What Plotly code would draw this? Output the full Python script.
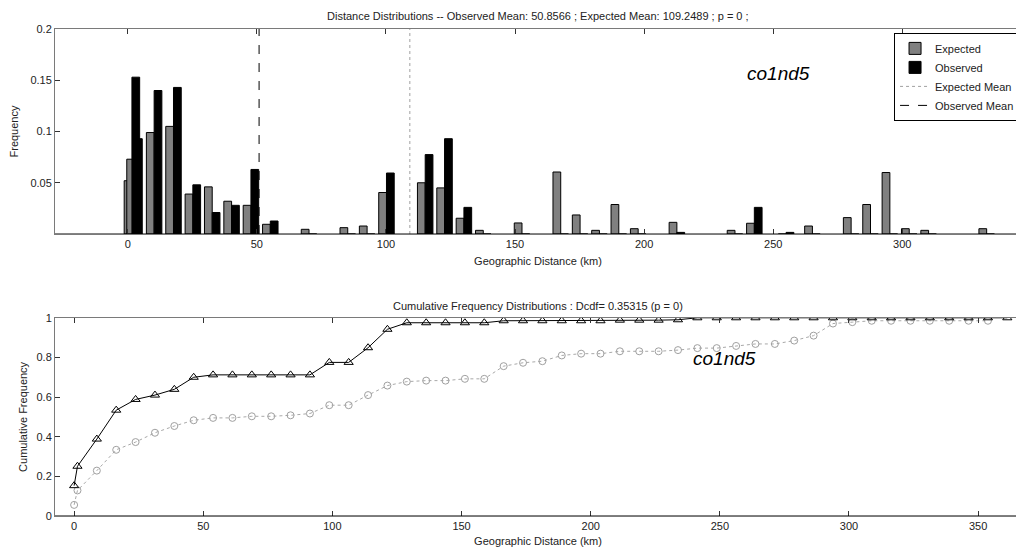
import plotly.graph_objects as go

# ---------------- data ----------------
dist_bins = [1.6, 2.6, 10.2, 17.7, 25.2, 32.7, 40.2, 47.7, 55.2, 70.2, 85.2, 92.7,
             100.2, 115.2, 122.7, 130.2, 137.7, 152.7, 167.7, 175.2, 182.7, 190.2,
             197.7, 212.7, 235.2, 242.7, 255.0, 265.2, 280.2, 287.7, 295.2, 302.7,
             310.2, 332.7]
expected_freq = [0.052, 0.073, 0.099, 0.105, 0.039, 0.046, 0.032, 0.028, 0.0095, 0.0046,
                 0.0062, 0.0078, 0.0405, 0.050, 0.045, 0.0154, 0.0036, 0.0108, 0.0605,
                 0.0186, 0.0036, 0.0288, 0.0052, 0.0114, 0.0036, 0.0105, 0.0, 0.0078,
                 0.016, 0.0288, 0.060, 0.0052, 0.0036, 0.0052]
observed_freq = [0.153, 0.093, 0.140, 0.143, 0.048, 0.021, 0.028, 0.063, 0.0127, 0.0,
                 0.0, 0.0, 0.0595, 0.0775, 0.093, 0.026, 0.0, 0.0, 0.0, 0.0, 0.0, 0.0,
                 0.0, 0.0016, 0.0, 0.026, 0.0016, 0.0, 0.0, 0.0, 0.0, 0.0, 0.0, 0.0]
observed_mean = 50.8566
expected_mean = 109.2489

cdf_x = [0, 1.3, 8.8, 16.3, 23.8, 31.3, 38.8, 46.3, 53.8, 61.3, 68.8, 76.3, 83.8, 91.3,
         98.8, 106.3, 113.8, 121.3, 128.8, 136.3, 143.8, 151.3, 158.8, 166.3, 173.8,
         181.3, 188.8, 196.3, 203.8, 211.3, 218.8, 226.3, 233.8, 241.3, 248.8, 256.3,
         263.8, 271.3, 278.8, 286.3, 293.8, 301.3, 308.8, 316.3, 323.8, 331.3, 338.8,
         346.3, 353.8, 361.3]
observed_cdf = [0.153, 0.251, 0.388, 0.534, 0.588, 0.610, 0.639, 0.700, 0.712, 0.712,
                0.712, 0.712, 0.712, 0.712, 0.775, 0.775, 0.849, 0.942, 0.975, 0.975,
                0.975, 0.975, 0.975, 0.985, 0.985, 0.985, 0.985, 0.985, 0.985, 0.988,
                0.988, 0.988, 0.990, 1.0, 1.0, 1.0, 1.0, 1.0, 1.0, 1.0, 1.0, 1.0, 1.0,
                1.0, 1.0, 1.0, 1.0, 1.0, 1.0, 1.0]
expected_cdf = [0.056, 0.129, 0.229, 0.334, 0.373, 0.420, 0.454, 0.483, 0.495, 0.495,
                0.503, 0.503, 0.508, 0.517, 0.559, 0.559, 0.610, 0.658, 0.678, 0.683,
                0.683, 0.692, 0.692, 0.756, 0.773, 0.781, 0.810, 0.819, 0.819, 0.831,
                0.831, 0.831, 0.837, 0.847, 0.847, 0.858, 0.868, 0.868, 0.885, 0.910,
                0.971, 0.978, 0.985, 0.985, 0.985, 0.985, 0.985, 0.985, 0.985]

top_xticks = [0, 50, 100, 150, 200, 250, 300]
top_yticks = [0.05, 0.1, 0.15, 0.2]
top_yticklabels = ["0.05", "0.1", "0.15", "0.2"]
bot_xticks = [0, 50, 100, 150, 200, 250, 300, 350]
bot_yticks = [0, 0.2, 0.4, 0.6, 0.8, 1]
bot_yticklabels = ["0", "0.2", "0.4", "0.6", "0.8", "1"]

title_top = "Distance Distributions -- Observed Mean: 50.8566 ; Expected Mean: 109.2489 ; p = 0 ;"
title_bot = "Cumulative Frequency Distributions : Dcdf= 0.35315 (p = 0)"
x_label = "Geographic Distance (km)"
locus = "co1nd5"

# ---------------- figure ----------------
FONT = "Liberation Sans, Arial, sans-serif"
GRAY = "#808080"
fig = go.Figure()

fig.add_trace(go.Bar(x=dist_bins, y=expected_freq, width=3.0, offset=-3.0,
                     marker=dict(color=GRAY, line=dict(color="black", width=1)),
                     name="Expected", xaxis="x", yaxis="y"))
fig.add_trace(go.Bar(x=dist_bins, y=observed_freq, width=3.0, offset=0.0,
                     marker=dict(color="black", line=dict(color="black", width=1)),
                     name="Observed", xaxis="x", yaxis="y"))
fig.add_trace(go.Scatter(x=[expected_mean, expected_mean], y=[0, 0.2], mode="lines",
                         line=dict(color="#a0a0a0", width=1, dash="dot"),
                         name="Expected Mean", xaxis="x", yaxis="y"))
fig.add_trace(go.Scatter(x=[observed_mean, observed_mean], y=[0, 0.2], mode="lines",
                         line=dict(color="black", width=1, dash="dash"),
                         name="Observed Mean", xaxis="x", yaxis="y"))

fig.add_trace(go.Scatter(x=cdf_x[:len(expected_cdf)], y=expected_cdf, mode="lines+markers",
                         line=dict(color="#a8a8a8", width=1, dash="dot"),
                         marker=dict(symbol="circle-open", size=7, color="#a0a0a0",
                                     line=dict(width=1)),
                         showlegend=False, xaxis="x2", yaxis="y2"))
fig.add_trace(go.Scatter(x=cdf_x, y=observed_cdf, mode="lines+markers",
                         line=dict(color="black", width=1),
                         marker=dict(symbol="triangle-up-open", size=8, color="black",
                                     line=dict(width=1)),
                         showlegend=False, xaxis="x2", yaxis="y2"))

axis_common = dict(showline=True, linecolor="#7a7a7a", linewidth=1, mirror="ticks",
                   ticks="inside", ticklen=5, tickcolor="#333333", showgrid=False,
                   zeroline=False, automargin=False,
                   tickfont=dict(size=11, color="#222222", family=FONT))

# page body has an 8px margin, so the figure is shifted by 8px; compensate
fig.update_layout(
    width=1016, height=542,
    margin=dict(l=47, r=3, t=21, b=34),
    paper_bgcolor="white", plot_bgcolor="white",
    barmode="overlay",
    font=dict(family=FONT, size=11, color="#222222"),
    xaxis=dict(domain=[0, 1], anchor="y", range=[-28.2, 346.0], tickvals=top_xticks,
               title=dict(text=x_label, standoff=8, font=dict(size=11)), **axis_common),
    yaxis=dict(domain=[0.579, 1], anchor="x", range=[0, 0.2], tickvals=top_yticks,
               ticktext=top_yticklabels,
               title=dict(text="Frequency", standoff=10, font=dict(size=11)), **axis_common),
    xaxis2=dict(domain=[0, 1], anchor="y2", range=[-7.4, 366.6], tickvals=bot_xticks,
                title=dict(text=x_label, standoff=6, font=dict(size=11)), **axis_common),
    yaxis2=dict(domain=[0, 0.407], anchor="x2", range=[0, 1], tickvals=bot_yticks,
                ticktext=bot_yticklabels,
                title=dict(text="Cumulative Frequency", standoff=6, font=dict(size=11)),
                **axis_common),
    legend=dict(x=0.999, y=0.992, xanchor="right", yanchor="top",
                bgcolor="white", bordercolor="black", borderwidth=1,
                font=dict(size=11, family=FONT, color="#222222"),
                itemwidth=30, tracegroupgap=0),
    showlegend=True,
)

# black baselines at y = 0
fig.add_shape(type="line", xref="x domain", yref="y", x0=0, x1=1, y0=0, y1=0,
              line=dict(color="black", width=1))
fig.add_shape(type="line", xref="x2 domain", yref="y2", x0=0, x1=1, y0=0, y1=0,
              line=dict(color="black", width=1))

fig.add_annotation(text=title_top, xref="paper", yref="paper", x=0.5, y=1,
                   yshift=5, yanchor="bottom", showarrow=False, font=dict(size=11))
fig.add_annotation(text=title_bot, xref="paper", yref="paper", x=0.5, y=0.407,
                   yshift=4, yanchor="bottom", showarrow=False, font=dict(size=11))
fig.add_annotation(text="<i>" + locus + "</i>", xref="x", yref="y", x=239, y=0.157,
                   xanchor="left", yanchor="middle", showarrow=False,
                   font=dict(size=19, color="black"))
fig.add_annotation(text="<i>" + locus + "</i>", xref="x2", yref="y2", x=239, y=0.795,
                   xanchor="left", yanchor="middle", showarrow=False,
                   font=dict(size=19, color="black"))

fig.write_html("out.html")
